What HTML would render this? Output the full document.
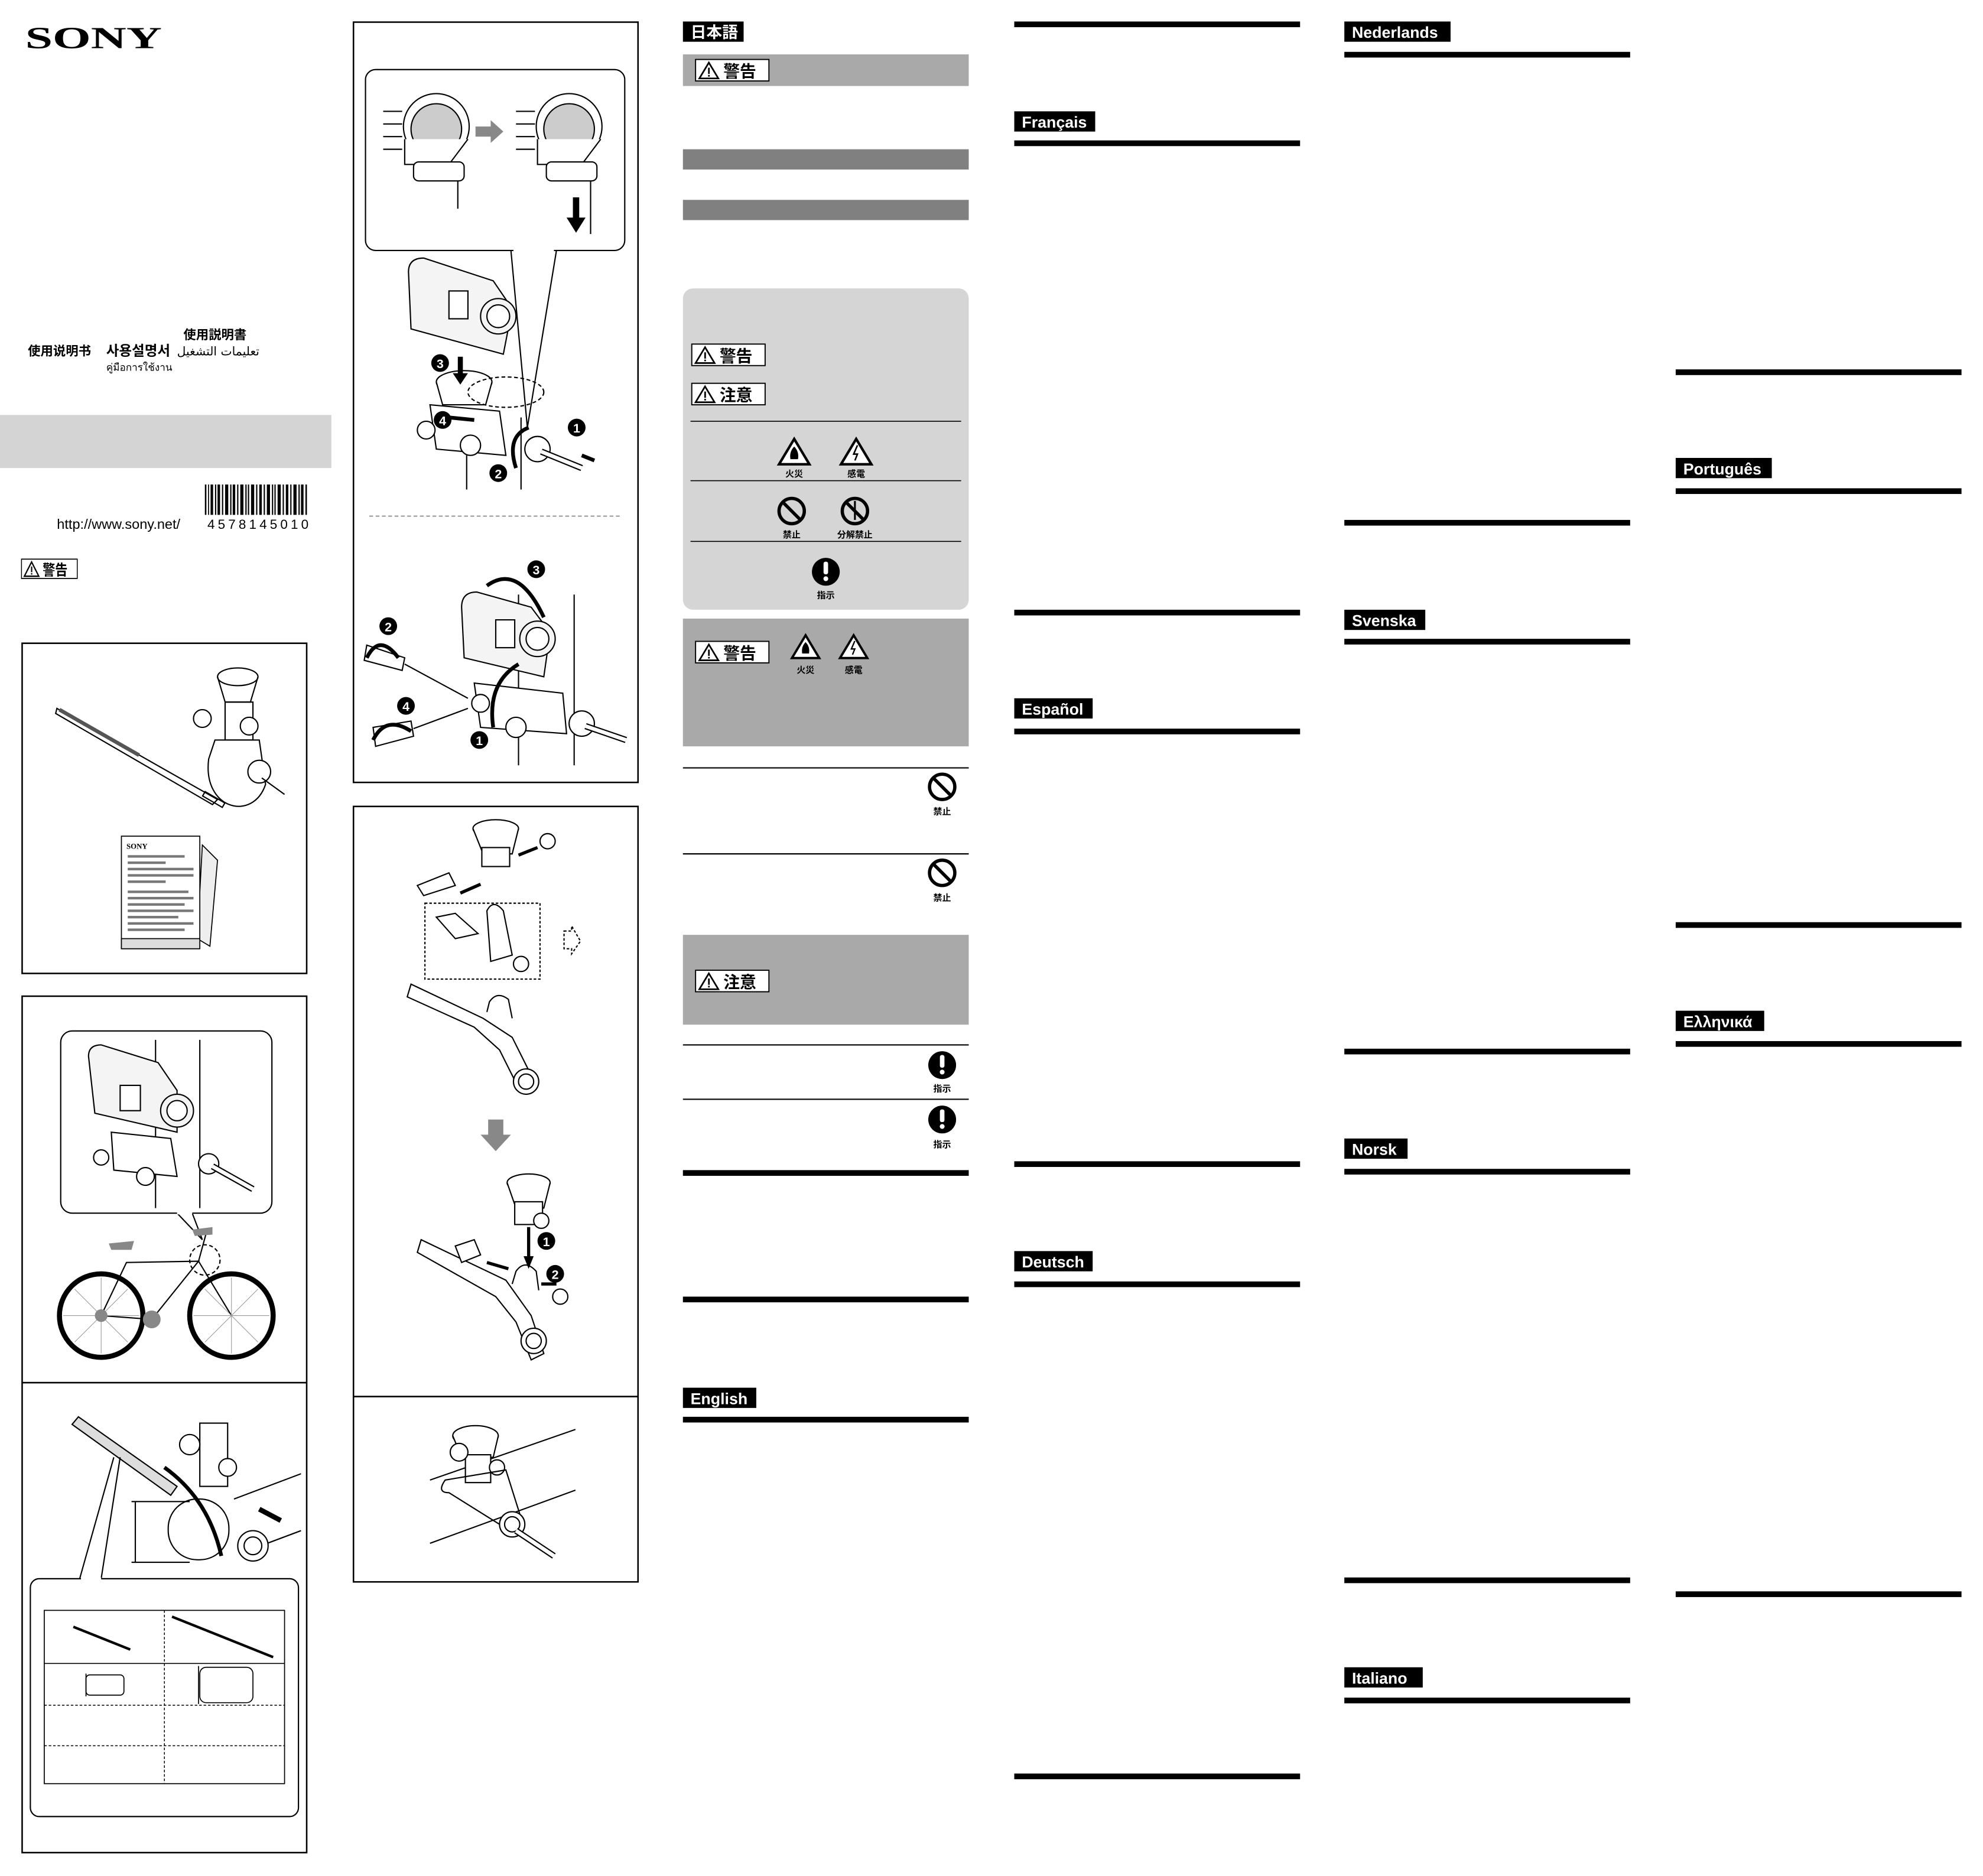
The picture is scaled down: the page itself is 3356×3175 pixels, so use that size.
<!DOCTYPE html>
<html><head><meta charset="utf-8"><style>
html,body{margin:0;padding:0;background:#fff;width:3356px;height:3175px;overflow:hidden}
svg{display:block}
text{font-family:"Liberation Sans","Noto Sans CJK JP",sans-serif}
.lb{font-weight:bold;fill:#fff;font-size:12.5px}
</style></head><body>
<svg width="3356" height="3175" viewBox="0 0 1568 1483" preserveAspectRatio="none" xmlns="http://www.w3.org/2000/svg">
<defs>
<g id="warn"><rect x="0" y="0" width="58" height="17" fill="#fff" stroke="#000" stroke-width="0.9"/><path d="M3,15 L10.5,2.5 L18,15 Z" fill="none" stroke="#000" stroke-width="1.3"/><rect x="9.9" y="6.5" width="1.3" height="5" fill="#000"/><rect x="9.9" y="12.3" width="1.3" height="1.3" fill="#000"/></g>
<g id="noS"><circle cx="0" cy="0" r="10" fill="none" stroke="#000" stroke-width="2.6"/><line x1="-7" y1="-7" x2="7" y2="7" stroke="#000" stroke-width="2.6"/></g>
<g id="exc"><circle cx="0" cy="0" r="11" fill="#000"/><rect x="-1.8" y="-8" width="3.6" height="10" rx="1.5" fill="#fff"/><circle cx="0" cy="5.5" r="1.9" fill="#fff"/></g>
<g id="tri"><path d="M0,-12 L12,8 L-12,8 Z" fill="#fff" stroke="#000" stroke-width="2"/></g>
</defs>

<!-- Column 1 -->
<text x="20" y="38" font-weight="bold" font-size="24" textLength="108" lengthAdjust="spacingAndGlyphs" style="font-family:'Liberation Serif',serif">SONY</text>
<text x="145" y="268" font-size="10" font-weight="bold">使用説明書</text>
<text x="22" y="281" font-size="10" font-weight="bold">使用说明书</text>
<text x="84" y="281" font-size="11" font-weight="bold" style="font-family:'Liberation Sans','Noto Sans CJK KR',sans-serif">사용설명서</text>
<text x="140" y="281" font-size="9.5" style="font-family:'DejaVu Sans',sans-serif">تعليمات التشغيل</text>
<text x="84" y="293" font-size="8" style="font-family:'DejaVu Sans',sans-serif">คู่มือการใช้งาน</text>
<rect x="0" y="328" width="262" height="42" fill="#d4d4d4"/>
<g fill="#000">
<rect x="162" y="383" width="1.2" height="24"/><rect x="164.5" y="383" width="0.8" height="24"/><rect x="166.5" y="383" width="2" height="24"/><rect x="170" y="383" width="1" height="24"/><rect x="172" y="383" width="2" height="24"/><rect x="175.5" y="383" width="1" height="24"/><rect x="178" y="383" width="2.5" height="24"/><rect x="182" y="383" width="1" height="24"/><rect x="184" y="383" width="2" height="24"/><rect x="187.5" y="383" width="1" height="24"/><rect x="190" y="383" width="2.5" height="24"/><rect x="194" y="383" width="1" height="24"/><rect x="196" y="383" width="1" height="24"/><rect x="198.5" y="383" width="2.5" height="24"/><rect x="202.5" y="383" width="1" height="24"/><rect x="205" y="383" width="2" height="24"/><rect x="208.5" y="383" width="1" height="24"/><rect x="211" y="383" width="2.5" height="24"/><rect x="215" y="383" width="1" height="24"/><rect x="217" y="383" width="1" height="24"/><rect x="219.5" y="383" width="2.5" height="24"/><rect x="223.5" y="383" width="1" height="24"/><rect x="226" y="383" width="2" height="24"/><rect x="229.5" y="383" width="1" height="24"/><rect x="232" y="383" width="2.5" height="24"/><rect x="236" y="383" width="1" height="24"/><rect x="238" y="383" width="2" height="24"/><rect x="241.5" y="383" width="1.2" height="24"/>
</g>
<text x="164" y="418" font-size="10.5" style="letter-spacing:2.4px">4578145010</text>
<text x="45" y="418" font-size="11">http://www.sony.net/</text>
<g transform="translate(17,442) scale(0.76,0.9)"><use href="#warn"/><text x="22" y="14" font-size="13" font-weight="bold">警告</text></g>

<!-- Box 1 -->
<rect x="17.5" y="508.5" width="225" height="261" fill="none" stroke="#000" stroke-width="1.2"/>
<g stroke="#000" fill="none" stroke-width="1">
<path d="M45,560 L172,632 L168,636 L44,564 Z" fill="#fff"/>
<path d="M47,561 L110,597" stroke-width="3" stroke="#555"/>
<rect x="160" y="630" width="18" height="4" transform="rotate(30 169 632)"/>
<ellipse cx="188" cy="535" rx="16" ry="7" fill="#fff"/>
<path d="M172,535 L178,555 L198,555 L204,535"/>
<rect x="178" y="555" width="22" height="30"/>
<path d="M165,600 C160,640 200,650 210,620 L205,585 L170,585 Z" fill="#fff"/>
<circle cx="160" cy="568" r="7" fill="#fff"/><circle cx="197" cy="574" r="7" fill="#fff"/>
<circle cx="205" cy="610" r="9" fill="#fff"/>
<path d="M207,615 L225,628"/>
</g>
<g stroke="#000" fill="#fff" stroke-width="0.8">
<path d="M160,668 L172,680 L166,748 L156,742 Z" fill="#eee"/>
<rect x="96" y="661" width="62" height="89"/>
<rect x="96" y="742" width="62" height="8" fill="#ddd"/>
</g>
<text x="100" y="671" font-size="6" font-weight="bold" style="font-family:'Liberation Serif',serif">SONY</text>
<g fill="#777"><rect x="101" y="676" width="45" height="2"/><rect x="101" y="681" width="30" height="2"/><rect x="101" y="686" width="52" height="2"/><rect x="101" y="691" width="52" height="2"/><rect x="101" y="696" width="30" height="2"/><rect x="101" y="704" width="48" height="2"/><rect x="101" y="709" width="52" height="2"/><rect x="101" y="714" width="45" height="2"/><rect x="101" y="719" width="52" height="2"/><rect x="101" y="724" width="40" height="2"/><rect x="101" y="729" width="52" height="2"/><rect x="101" y="734" width="45" height="2"/></g>

<!-- Box 2 & 3 -->
<rect x="17.5" y="787.5" width="225" height="677" fill="none" stroke="#000" stroke-width="1.2"/>
<line x1="17.5" y1="1093" x2="242.5" y2="1093" stroke="#000" stroke-width="1.2"/>
<rect x="48" y="815" width="167" height="144" rx="9" fill="#fff" stroke="#000" stroke-width="1"/>
<path d="M140,959 L160,980 L152,959" fill="#fff" stroke="#000" stroke-width="1"/>
<line x1="140" y1="959" x2="152" y2="959" stroke="#fff" stroke-width="2"/>
<g stroke="#000" fill="#fff" stroke-width="1">
<line x1="123" y1="822" x2="123" y2="955"/><line x1="158" y1="822" x2="158" y2="955"/>
<path d="M70,835 Q70,826 80,826 L125,840 L140,862 L140,895 L75,880 Z" fill="#f4f4f4"/>
<circle cx="140" cy="878" r="13" fill="#f4f4f4"/><circle cx="140" cy="878" r="8"/>
<rect x="95" y="858" width="16" height="20"/>
<path d="M88,895 L135,900 L140,930 L90,925 Z"/>
<circle cx="80" cy="915" r="6"/><circle cx="115" cy="930" r="7"/><circle cx="165" cy="920" r="8"/>
<path d="M168,922 L200,940" stroke-width="5" stroke="#000"/><path d="M168,922 L200,940" stroke-width="3" stroke="#fff"/>
</g>
<g stroke="#000" fill="none" stroke-width="1">
<circle cx="80" cy="1040" r="33" stroke-width="4"/><circle cx="183" cy="1040" r="33" stroke-width="4"/>
<path d="M80,1040 L120,1043 L157,997 L100,998 Z M100,998 L80,1040 M157,997 L183,1040 M157,997 L163,975"/>
<circle cx="162" cy="996" r="12" stroke-dasharray="3,2"/>
</g>
<g stroke="#999" stroke-width="0.5"><path d="M50,1040 L110,1040 M80,1010 L80,1070 M59,1019 L101,1061 M59,1061 L101,1019 M153,1040 L213,1040 M183,1010 L183,1070 M162,1019 L204,1061 M162,1061 L204,1019"/></g>
<path d="M86,983 L106,981 L104,988 L88,988 Z" fill="#888"/><path d="M152,972 L168,970 L168,976 L154,977 Z" fill="#888"/>
<circle cx="120" cy="1043" r="7" fill="#888"/><circle cx="80" cy="1040" r="5" fill="#888"/>
<!-- box 3 illustration -->
<g stroke="#000" fill="#fff" stroke-width="1">
<path d="M62,1120 L140,1175 L135,1182 L57,1126 Z" fill="#ddd"/>
<line x1="238" y1="1165" x2="185" y2="1185"/><line x1="238" y1="1210" x2="190" y2="1228"/>
<rect x="133" y="1185" width="48" height="48" rx="23" fill="#fff"/>
<path d="M107,1187 L107,1235 M104,1187 L150,1187 M104,1235 L150,1235"/>
<path d="M130,1160 Q165,1185 175,1230" fill="none" stroke-width="3"/>
<rect x="158" y="1125" width="22" height="50"/>
<circle cx="150" cy="1142" r="8"/><circle cx="180" cy="1160" r="7"/>
<circle cx="200" cy="1222" r="12"/><circle cx="200" cy="1222" r="7"/>
<path d="M222,1202 L205,1193" stroke-width="4"/>
</g>
<path d="M90,1152 L63,1248 M95,1152 L80,1248" stroke="#000" fill="none" stroke-width="1"/>
<rect x="24" y="1248" width="212" height="188" rx="7" fill="#fff" stroke="#000" stroke-width="1"/>
<line x1="64" y1="1248" x2="80" y2="1248" stroke="#fff" stroke-width="2"/>
<rect x="35" y="1273" width="190" height="137" fill="none" stroke="#000" stroke-width="0.8"/>
<line x1="35" y1="1315" x2="225" y2="1315" stroke="#000" stroke-width="0.8"/>
<g stroke="#000" stroke-width="0.7" stroke-dasharray="2,1.5"><line x1="130" y1="1273" x2="130" y2="1410"/><line x1="35" y1="1348" x2="225" y2="1348"/><line x1="35" y1="1380" x2="225" y2="1380"/></g>
<g stroke="#000" fill="none" stroke-width="0.8">
<path d="M58,1286 L103,1304" stroke-width="2"/><path d="M136,1278 L216,1310" stroke-width="2"/>
<rect x="68" y="1324" width="30" height="16" rx="3"/><rect x="158" y="1318" width="42" height="28" rx="5"/>
<line x1="68" y1="1323" x2="68" y2="1341"/><line x1="157" y1="1317" x2="157" y2="1347"/>
</g>

<!-- Column 2 -->
<rect x="279.5" y="17.5" width="225" height="601" fill="none" stroke="#000" stroke-width="1.2"/>
<rect x="289" y="55" width="205" height="143" rx="8" fill="#fff" stroke="#000" stroke-width="1"/>
<path d="M404,198 L417,338 L440,198" fill="none" stroke="#000" stroke-width="1"/>
<line x1="406" y1="198" x2="438" y2="198" stroke="#fff" stroke-width="2"/>
<g stroke="#000" stroke-width="1" fill="#fff">
<circle cx="345" cy="100" r="26"/><circle cx="345" cy="102" r="20" fill="#ccc"/>
<circle cx="450" cy="100" r="26"/><circle cx="450" cy="102" r="20" fill="#ccc"/>
<path d="M320,110 L320,130 L355,130 L370,110"/><path d="M425,110 L425,130 L460,130 L475,110"/>
<rect x="327" y="128" width="40" height="15" rx="4"/><rect x="432" y="128" width="40" height="15" rx="4"/>
<line x1="362" y1="143" x2="362" y2="165"/><line x1="467" y1="143" x2="467" y2="185"/>
<path d="M303,88 L318,88 M303,98 L318,98 M303,108 L318,108 M303,118 L318,118 M408,88 L423,88 M408,98 L423,98 M408,108 L423,108 M408,118 L423,118"/>
</g>
<path d="M376,100 L388,100 L388,95 L398,104 L388,113 L388,108 L376,108 Z" fill="#888"/>
<path d="M453,156 L458,156 L458,172 L463,172 L455.5,184 L448,172 L453,172 Z" fill="#000"/>
<g stroke="#000" stroke-width="1" fill="#fff">
<line x1="369" y1="330" x2="369" y2="387"/><line x1="412" y1="330" x2="412" y2="387"/>
<path d="M323,215 Q323,204 335,204 L390,222 L405,244 L398,280 L325,260 Z" fill="#f4f4f4"/>
<circle cx="394" cy="250" r="14" fill="#f4f4f4"/><circle cx="394" cy="250" r="9"/>
<rect x="355" y="230" width="15" height="22"/>
<ellipse cx="367" cy="302" rx="22" ry="9"/><path d="M345,302 L350,320 L384,320 L389,302"/>
<ellipse cx="400" cy="310" rx="30" ry="12" fill="none" stroke-dasharray="3,2"/>
<path d="M340,320 L395,325 L400,360 L345,355 Z"/>
<circle cx="337" cy="340" r="7"/><circle cx="372" cy="352" r="8"/><circle cx="425" cy="355" r="10"/>
<path d="M428,357 L460,370" stroke-width="5"/><path d="M428,357 L460,370" stroke-width="3" stroke="#fff"/>
</g>
<path d="M362,282 L366,282 L366,295 L370,295 L364,304 L358,295 L362,295 Z" fill="#000"/>
<path d="M355,330 L375,332" stroke="#000" stroke-width="3"/>
<path d="M408,370 Q400,345 418,338" fill="none" stroke="#000" stroke-width="3"/>
<path d="M460,360 L470,364" stroke="#000" stroke-width="3"/>
<g font-size="10" font-weight="bold" text-anchor="middle">
<circle cx="348" cy="287" r="7"/><text x="348" y="291" fill="#fff">3</text>
<circle cx="350" cy="332" r="7"/><text x="350" y="336" fill="#fff">4</text>
<circle cx="456" cy="338" r="7"/><text x="456" y="342" fill="#fff">1</text>
<circle cx="394" cy="374" r="7"/><text x="394" y="378" fill="#fff">2</text>
</g>
<line x1="292" y1="408" x2="492" y2="408" stroke="#888" stroke-width="0.8" stroke-dasharray="3,2"/>
<g stroke="#000" stroke-width="1" fill="#fff">
<line x1="410" y1="470" x2="410" y2="605"/><line x1="454" y1="470" x2="454" y2="605"/>
<path d="M365,480 Q365,468 377,468 L420,480 L435,500 L430,535 L367,520 Z" fill="#f4f4f4"/>
<circle cx="425" cy="505" r="14" fill="#f4f4f4"/><circle cx="425" cy="505" r="9"/>
<rect x="392" y="490" width="15" height="22"/>
<path d="M375,540 L445,548 L448,580 L380,575 Z"/>
<circle cx="380" cy="556" r="7"/><circle cx="408" cy="575" r="8"/><circle cx="460" cy="572" r="10"/>
<path d="M463,574 L495,585" stroke-width="5"/><path d="M463,574 L495,585" stroke-width="3" stroke="#fff"/>
<path d="M290,510 L320,520 L318,530 L288,522 Z"/><line x1="320" y1="525" x2="370" y2="552"/>
<path d="M295,575 L325,570 L327,582 L297,590 Z"/><line x1="327" y1="576" x2="370" y2="560"/>
</g>
<g fill="none" stroke="#000" stroke-width="3"><path d="M385,463 Q410,445 430,488"/><path d="M390,575 Q385,540 410,525"/><path d="M290,520 Q300,500 315,520"/><path d="M295,585 Q305,565 325,578"/></g>
<g font-size="10" font-weight="bold" text-anchor="middle">
<circle cx="424" cy="450" r="7"/><text x="424" y="454" fill="#fff">3</text>
<circle cx="307" cy="495" r="7"/><text x="307" y="499" fill="#fff">2</text>
<circle cx="321" cy="558" r="7"/><text x="321" y="562" fill="#fff">4</text>
<circle cx="379" cy="585" r="7"/><text x="379" y="589" fill="#fff">1</text>
</g>

<rect x="279.5" y="637.5" width="225" height="613" fill="none" stroke="#000" stroke-width="1.2"/>
<line x1="279.5" y1="1104" x2="504.5" y2="1104" stroke="#000" stroke-width="1.2"/>
<g stroke="#000" stroke-width="1" fill="#fff">
<ellipse cx="392" cy="655" rx="18" ry="7"/><path d="M374,655 L382,675 L405,675 L410,655"/>
<rect x="381" y="670" width="22" height="15"/>
<circle cx="433" cy="665" r="6"/>
<path d="M330,700 L355,690 L360,700 L335,708 Z"/>
<rect x="336" y="714" width="91" height="60" fill="none" stroke-dasharray="2,1.5"/>
<path d="M345,725 L360,722 L378,738 L360,742 Z"/><path d="M385,720 Q390,710 398,720 L405,755 L388,760 Z"/><circle cx="412" cy="762" r="6"/>
<path d="M446,736 L452,736 L452,732 L459,744 L452,754 L452,750 L446,750 Z" stroke-dasharray="2,1.5"/>
<path d="M325,778 L382,805 L405,820 L420,850 L410,860 L395,830 L375,812 L322,788 Z"/>
<path d="M385,800 L387,792 Q393,783 402,790 L405,805"/>
<circle cx="416" cy="855" r="10"/><circle cx="416" cy="855" r="6"/>
</g>
<path d="M364,706 L380,699" stroke="#000" stroke-width="2.5"/><path d="M410,676 L425,670" stroke="#000" stroke-width="2.5"/>
<path d="M386,885 L398,885 L398,897 L404,897 L392,910 L380,897 L386,897 Z" fill="#888"/>
<g stroke="#000" stroke-width="1" fill="#fff">
<ellipse cx="418" cy="935" rx="17" ry="7"/><path d="M401,935 L408,955 L430,955 L435,935"/>
<rect x="407" y="950" width="22" height="18"/><circle cx="428" cy="965" r="6"/>
<path d="M333,980 L400,1012 L420,1040 L430,1070 L420,1075 L408,1045 L392,1025 L330,990 Z"/>
<path d="M360,985 L375,980 L380,992 L365,998 Z"/>
<path d="M405,1015 L408,1005 Q415,995 424,1005 L426,1020"/>
<circle cx="422" cy="1060" r="10"/><circle cx="422" cy="1060" r="6"/>
<circle cx="443" cy="1025" r="6"/>
</g>
<path d="M418,970 L418,995" stroke="#000" stroke-width="2.5"/><path d="M414,993 L418,1003 L422,993 Z" fill="#000"/>
<path d="M385,998 L402,1003" stroke="#000" stroke-width="2.5"/><path d="M440,1015 L428,1015" stroke="#000" stroke-width="2.5"/>
<g font-size="10" font-weight="bold" text-anchor="middle">
<circle cx="432" cy="981" r="7"/><text x="432" y="985" fill="#fff">1</text>
<circle cx="439" cy="1007" r="7"/><text x="439" y="1011" fill="#fff">2</text>
</g>
<g stroke="#000" stroke-width="1" fill="#fff">
<path d="M340,1170 L455,1130 M340,1220 L455,1178" fill="none"/>
<ellipse cx="376" cy="1135" rx="18" ry="8"/><path d="M358,1135 L365,1152 L390,1152 L394,1135"/>
<rect x="368" y="1150" width="20" height="22"/><circle cx="363" cy="1148" r="7"/><circle cx="393" cy="1160" r="6"/>
<path d="M355,1180 Q345,1180 352,1170 L400,1162 L412,1200 L395,1205 Z" fill="none"/>
<circle cx="405" cy="1205" r="10"/><circle cx="405" cy="1205" r="6"/>
<path d="M408,1210 L438,1230" stroke-width="5"/><path d="M408,1210 L438,1230" stroke-width="3" stroke="#fff"/>
</g>

<!-- Column 3 -->
<rect x="540" y="17" width="48" height="16" fill="#000"/><text x="546" y="30" class="lb">日本語</text>
<rect x="540" y="43" width="226" height="25" fill="#a9a9a9"/>
<g transform="translate(550,47)"><use href="#warn"/><text x="22" y="14" font-size="13" font-weight="bold">警告</text></g>
<rect x="540" y="118" width="226" height="16" fill="#808080"/>
<rect x="540" y="158" width="226" height="16" fill="#808080"/>
<rect x="540" y="228" width="226" height="254" rx="8" fill="#d5d5d5"/>
<g transform="translate(547,272)"><use href="#warn"/><text x="22" y="14" font-size="13" font-weight="bold">警告</text></g>
<g transform="translate(547,303)"><use href="#warn"/><text x="22" y="14" font-size="13" font-weight="bold">注意</text></g>
<g stroke="#000" stroke-width="0.8"><line x1="546" y1="333" x2="760" y2="333"/><line x1="546" y1="380" x2="760" y2="380"/><line x1="546" y1="428" x2="760" y2="428"/></g>
<g transform="translate(628,359)"><use href="#tri"/><path d="M-3,4 Q-4,-2 0,-6 Q4,-2 3,4 Z" fill="#000"/></g>
<g transform="translate(677,359)"><use href="#tri"/><path d="M1,-7 L-2,0 L1,0 L-1,5" fill="none" stroke="#000" stroke-width="1.2"/></g>
<g font-size="7" font-weight="bold" text-anchor="middle"><text x="628" y="377">火災</text><text x="677" y="377">感電</text>
<text x="626" y="425">禁止</text><text x="676" y="425">分解禁止</text><text x="653" y="473">指示</text></g>
<g transform="translate(626,404)"><use href="#noS"/></g>
<g transform="translate(676,404)"><use href="#noS"/><line x1="0" y1="-8" x2="0" y2="7" stroke="#000" stroke-width="1.5"/></g>
<g transform="translate(653,452)"><use href="#exc"/></g>
<rect x="540" y="489" width="226" height="101" fill="#a9a9a9"/>
<g transform="translate(550,507)"><use href="#warn"/><text x="22" y="14" font-size="13" font-weight="bold">警告</text></g>
<g transform="translate(637,513) scale(0.9)"><use href="#tri"/><path d="M-3,4 Q-4,-2 0,-6 Q4,-2 3,4 Z" fill="#000"/></g>
<g transform="translate(675,513) scale(0.9)"><use href="#tri"/><path d="M1,-7 L-2,0 L1,0 L-1,5" fill="none" stroke="#000" stroke-width="1.2"/></g>
<g font-size="7" font-weight="bold" text-anchor="middle"><text x="637" y="532">火災</text><text x="675" y="532">感電</text></g>
<g stroke="#000" stroke-width="1"><line x1="540" y1="607" x2="766" y2="607"/><line x1="540" y1="675" x2="766" y2="675"/><line x1="540" y1="826" x2="766" y2="826"/><line x1="540" y1="869" x2="766" y2="869"/></g>
<g transform="translate(745,622)"><use href="#noS"/></g><g transform="translate(745,690)"><use href="#noS"/></g>
<g font-size="7" font-weight="bold" text-anchor="middle"><text x="745" y="644">禁止</text><text x="745" y="712">禁止</text><text x="745" y="863">指示</text><text x="745" y="907">指示</text></g>
<rect x="540" y="739" width="226" height="71" fill="#a9a9a9"/>
<g transform="translate(550,767)"><use href="#warn"/><text x="22" y="14" font-size="13" font-weight="bold">注意</text></g>
<g transform="translate(745,842)"><use href="#exc"/></g><g transform="translate(745,885)"><use href="#exc"/></g>
<rect x="540" y="925" width="226" height="4.5" fill="#000"/>
<rect x="540" y="1025" width="226" height="4.5" fill="#000"/>
<rect x="540" y="1097" width="58" height="16" fill="#000"/><text x="546" y="1110" class="lb">English</text>
<rect x="540" y="1120" width="226" height="4.5" fill="#000"/>

<!-- Column 4 -->
<rect x="802" y="17" width="226" height="4.5" fill="#000"/>
<rect x="802" y="88" width="64" height="16" fill="#000"/><text x="808" y="101" class="lb">Français</text>
<rect x="802" y="111" width="226" height="4.5" fill="#000"/>
<rect x="802" y="482" width="226" height="4.5" fill="#000"/>
<rect x="802" y="552" width="62" height="16" fill="#000"/><text x="808" y="565" class="lb">Español</text>
<rect x="802" y="576" width="226" height="4.5" fill="#000"/>
<rect x="802" y="918" width="226" height="4.5" fill="#000"/>
<rect x="802" y="989" width="62" height="16" fill="#000"/><text x="808" y="1002" class="lb">Deutsch</text>
<rect x="802" y="1013" width="226" height="4.5" fill="#000"/>
<rect x="802" y="1402" width="226" height="4.5" fill="#000"/>

<!-- Column 5 -->
<rect x="1063" y="17" width="84" height="16" fill="#000"/><text x="1069" y="30" class="lb">Nederlands</text>
<rect x="1063" y="41" width="226" height="4.5" fill="#000"/>
<rect x="1063" y="411" width="226" height="4.5" fill="#000"/>
<rect x="1063" y="482" width="64" height="16" fill="#000"/><text x="1069" y="495" class="lb">Svenska</text>
<rect x="1063" y="505" width="226" height="4.5" fill="#000"/>
<rect x="1063" y="829" width="226" height="4.5" fill="#000"/>
<rect x="1063" y="900" width="50" height="16" fill="#000"/><text x="1069" y="913" class="lb">Norsk</text>
<rect x="1063" y="924" width="226" height="4.5" fill="#000"/>
<rect x="1063" y="1247" width="226" height="4.5" fill="#000"/>
<rect x="1063" y="1318" width="62" height="16" fill="#000"/><text x="1069" y="1331" class="lb">Italiano</text>
<rect x="1063" y="1342" width="226" height="4.5" fill="#000"/>

<!-- Column 6 -->
<rect x="1325" y="292" width="226" height="4.5" fill="#000"/>
<rect x="1325" y="362" width="76" height="16" fill="#000"/><text x="1331" y="375" class="lb">Português</text>
<rect x="1325" y="386" width="226" height="4.5" fill="#000"/>
<rect x="1325" y="729" width="226" height="4.5" fill="#000"/>
<rect x="1325" y="799" width="70" height="16" fill="#000"/><text x="1331" y="812" class="lb">Ελληνικά</text>
<rect x="1325" y="823" width="226" height="4.5" fill="#000"/>
<rect x="1325" y="1258" width="226" height="4.5" fill="#000"/>
</svg>
</body></html>
